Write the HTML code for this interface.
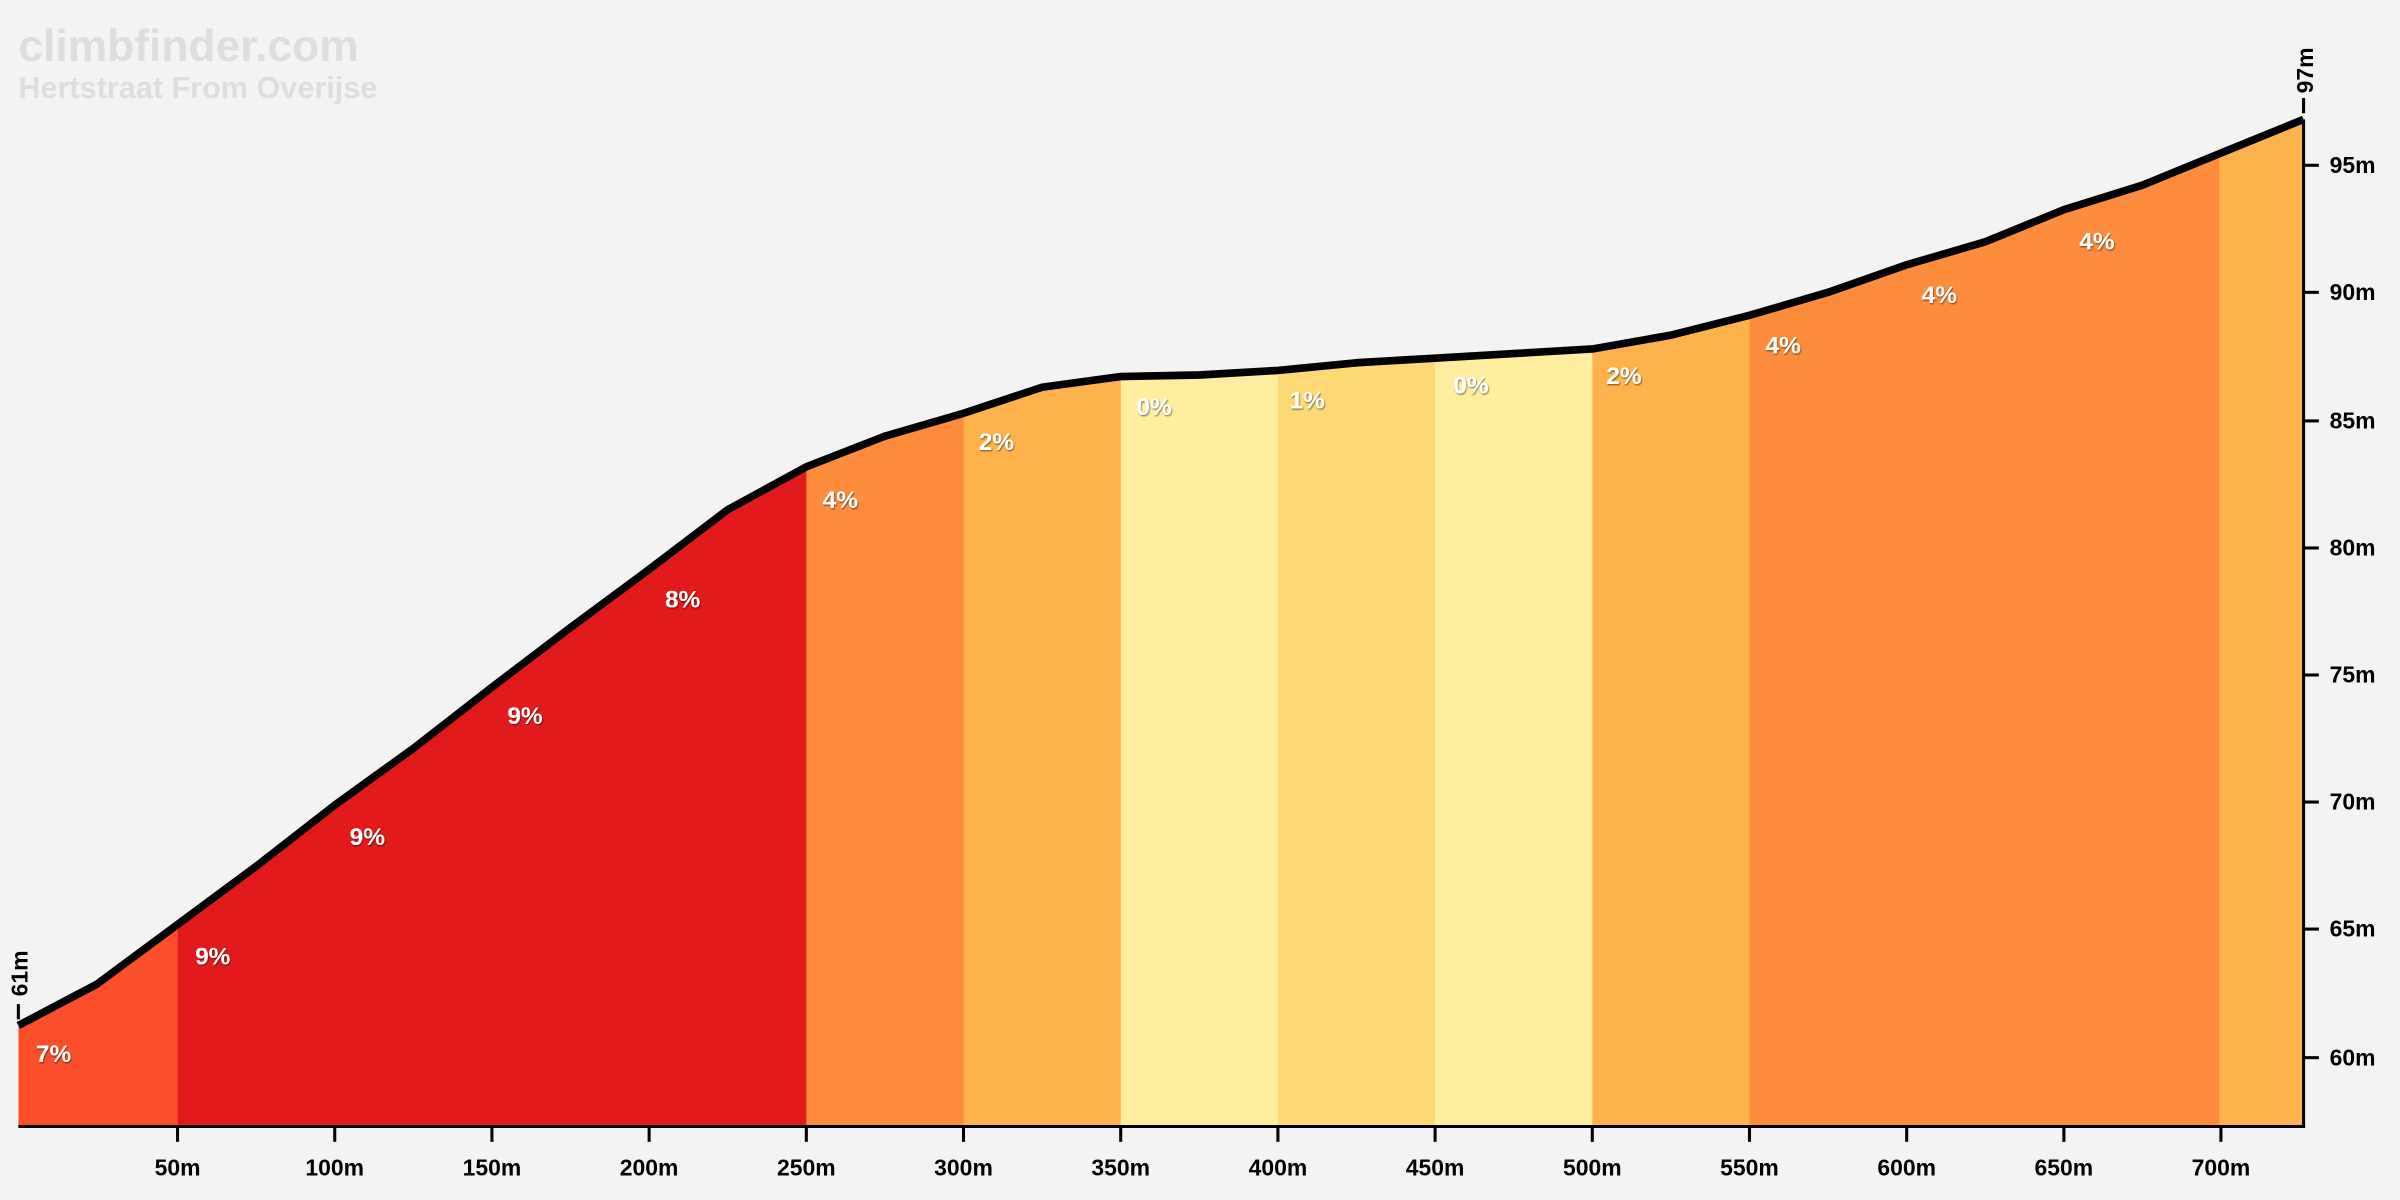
<!DOCTYPE html>
<html><head><meta charset="utf-8"><style>
html,body{margin:0;padding:0;background:#f3f3f3;}
svg{display:block;}
text{font-family:"Liberation Sans",sans-serif;font-weight:bold;}
</style></head><body>
<svg width="2400" height="1200" viewBox="0 0 1568 784" xmlns="http://www.w3.org/2000/svg">
<rect width="1568" height="784" fill="#f3f3f3"/>
<defs>
<clipPath id="c"><polygon points="12,670 63.3,643 116,604 167.3,566 218.7,526 270,489 321.4,449 372.7,410 424.1,372 475.4,333 526.8,305 578.1,285 629.5,270 680.8,253 732.2,246 783.5,245 834.9,242 886.2,237 937.6,234 988.9,231 1040.3,228 1091.6,219 1143,206 1194.3,191 1245.7,173 1297,158 1348.4,137 1399.7,121 1451,100 1505,78 1505,736 12,736"/></clipPath>
<filter id="s"><feDropShadow dx="0.5" dy="0.8" stdDeviation="0.6" flood-color="#000" flood-opacity="0.5"/></filter>
</defs>
<g clip-path="url(#c)">
<rect x="12" y="0" width="104" height="736" fill="#fc4e2a"/>
<rect x="116" y="0" width="411" height="736" fill="#e31a1c"/>
<rect x="526.8" y="0" width="103" height="736" fill="#fd8d3c"/>
<rect x="629.5" y="0" width="103" height="736" fill="#feb24c"/>
<rect x="732.2" y="0" width="103" height="736" fill="#ffeda0"/>
<rect x="834.9" y="0" width="103" height="736" fill="#fed976"/>
<rect x="937.6" y="0" width="103" height="736" fill="#ffeda0"/>
<rect x="1040.3" y="0" width="103" height="736" fill="#feb24c"/>
<rect x="1143" y="0" width="308" height="736" fill="#fd8d3c"/>
<rect x="1450" y="0" width="60" height="736" fill="#feb24c"/>
</g>
<polyline fill="none" stroke="#000" stroke-width="5" stroke-linejoin="round" points="12,670 63.3,643 116,604 167.3,566 218.7,526 270,489 321.4,449 372.7,410 424.1,372 475.4,333 526.8,305 578.1,285 629.5,270 680.8,253 732.2,246 783.5,245 834.9,242 886.2,237 937.6,234 988.9,231 1040.3,228 1091.6,219 1143,206 1194.3,191 1245.7,173 1297,158 1348.4,137 1399.7,121 1451,100 1505,78"/>
<g stroke="#000" stroke-width="2">
<line x1="12" y1="736" x2="1506" y2="736"/>
<line x1="1505" y1="78" x2="1505" y2="737"/>
<line x1="116" y1="736" x2="116" y2="746"/><line x1="218.7" y1="736" x2="218.7" y2="746"/><line x1="321.4" y1="736" x2="321.4" y2="746"/><line x1="424.1" y1="736" x2="424.1" y2="746"/><line x1="526.8" y1="736" x2="526.8" y2="746"/><line x1="629.5" y1="736" x2="629.5" y2="746"/><line x1="732.2" y1="736" x2="732.2" y2="746"/><line x1="834.9" y1="736" x2="834.9" y2="746"/><line x1="937.6" y1="736" x2="937.6" y2="746"/><line x1="1040.3" y1="736" x2="1040.3" y2="746"/><line x1="1143" y1="736" x2="1143" y2="746"/><line x1="1245.7" y1="736" x2="1245.7" y2="746"/><line x1="1348.4" y1="736" x2="1348.4" y2="746"/><line x1="1451" y1="736" x2="1451" y2="746"/>
<line x1="1505" y1="108" x2="1515" y2="108"/><line x1="1505" y1="191" x2="1515" y2="191"/><line x1="1505" y1="275" x2="1515" y2="275"/><line x1="1505" y1="358" x2="1515" y2="358"/><line x1="1505" y1="441" x2="1515" y2="441"/><line x1="1505" y1="524" x2="1515" y2="524"/><line x1="1505" y1="607" x2="1515" y2="607"/><line x1="1505" y1="691" x2="1515" y2="691"/>
<line x1="12" y1="656" x2="12" y2="666"/><line x1="1505" y1="64" x2="1505" y2="74"/>
</g>
<g font-size="15" fill="#000" text-anchor="middle">
<text x="116" y="768">50m</text><text x="218.7" y="768">100m</text><text x="321.4" y="768">150m</text><text x="424.1" y="768">200m</text><text x="526.8" y="768">250m</text><text x="629.5" y="768">300m</text><text x="732.2" y="768">350m</text><text x="834.9" y="768">400m</text><text x="937.6" y="768">450m</text><text x="1040.3" y="768">500m</text><text x="1143" y="768">550m</text><text x="1245.7" y="768">600m</text><text x="1348.4" y="768">650m</text><text x="1451" y="768">700m</text>
</g>
<g font-size="15" fill="#000">
<text x="1522" y="113">95m</text><text x="1522" y="196">90m</text><text x="1522" y="280">85m</text><text x="1522" y="363">80m</text><text x="1522" y="446">75m</text><text x="1522" y="529">70m</text><text x="1522" y="612">65m</text><text x="1522" y="696">60m</text>
<text transform="translate(18,636) rotate(-90)" text-anchor="middle">61m</text>
<text transform="translate(1511,46) rotate(-90)" text-anchor="middle">97m</text>
</g>
<g font-size="16" fill="#fff" text-anchor="middle" filter="url(#s)">
<text x="35" y="694">7%</text><text x="139" y="630">9%</text><text x="240" y="552">9%</text><text x="343" y="473">9%</text><text x="446" y="397">8%</text><text x="549" y="332">4%</text><text x="651" y="294">2%</text><text x="754" y="271">0%</text><text x="854" y="267">1%</text><text x="961" y="257">0%</text><text x="1061" y="251">2%</text><text x="1165" y="231">4%</text><text x="1267" y="198">4%</text><text x="1370" y="163">4%</text>
</g>
<text x="12" y="40" font-size="29" fill="#dddddd">climbfinder.com</text>
<text x="12" y="64" font-size="20" fill="#dddddd">Hertstraat From Overijse</text>
</svg>
</body></html>
